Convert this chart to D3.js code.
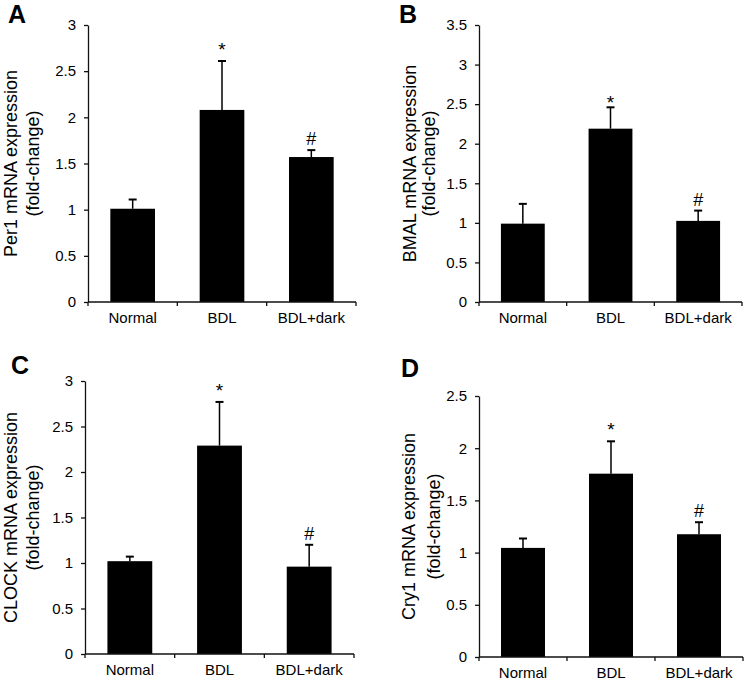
<!DOCTYPE html>
<html>
<head>
<meta charset="utf-8">
<script src="https://cdn.jsdelivr.net/npm/d3@7"></script>
<style>
  html, body { margin: 0; padding: 0; background: #fff; }
  svg { display: block; font-family: Arial, "Liberation Sans", sans-serif; }
</style>
</head>
<body>
<svg id="chart" width="748" height="682"></svg>
<script>
// ---- data ----
const categories = ["Normal", "BDL", "BDL+dark"];

const per1Values  = [1.01, 2.08, 1.57];
const per1Errors  = [0.10, 0.53, 0.075];
const per1Marks   = ["", "*", "#"];

const bmalValues  = [0.99, 2.19, 1.025];
const bmalErrors  = [0.25, 0.27, 0.13];
const bmalMarks   = ["", "*", "#"];

const clockValues = [1.02, 2.29, 0.96];
const clockErrors = [0.05, 0.48, 0.24];
const clockMarks  = ["", "*", "#"];

const cry1Values  = [1.045, 1.756, 1.176];
const cry1Errors  = [0.09, 0.31, 0.115];
const cry1Marks   = ["", "*", "#"];

const per1Ticks  = [0, 0.5, 1, 1.5, 2, 2.5, 3];
const bmalTicks  = [0, 0.5, 1, 1.5, 2, 2.5, 3, 3.5];
const clockTicks = [0, 0.5, 1, 1.5, 2, 2.5, 3];
const cry1Ticks  = [0, 0.5, 1, 1.5, 2, 2.5];

const panelLetters = ["A", "B", "C", "D"];
const yTitles = ["Per1 mRNA expression", "BMAL mRNA expression", "CLOCK mRNA expression", "Cry1 mRNA expression"];
const yTitleSub = "(fold-change)";

// ---- layout ----
const panels = [
  { letter: panelLetters[0], title: yTitles[0], values: per1Values,  errors: per1Errors,  marks: per1Marks,  ticks: per1Ticks,
    left: 88,  right: 356, top: 25,  bottom: 302, lx: 8,   ly: 23,  t1: 17,  t2: 39,  starDy: 0 },
  { letter: panelLetters[1], title: yTitles[1], values: bmalValues,  errors: bmalErrors,  marks: bmalMarks,  ticks: bmalTicks,
    left: 479, right: 742, top: 25,  bottom: 302, lx: 399, ly: 23,  t1: 416, t2: 435, starDy: 7 },
  { letter: panelLetters[2], title: yTitles[2], values: clockValues, errors: clockErrors, marks: clockMarks, ticks: clockTicks,
    left: 85,  right: 354, top: 381, bottom: 654, lx: 11,  ly: 374, t1: 17,  t2: 39,  starDy: 0 },
  { letter: panelLetters[3], title: yTitles[3], values: cry1Values,  errors: cry1Errors,  marks: cry1Marks,  ticks: cry1Ticks,
    left: 479, right: 743, top: 396, bottom: 657, lx: 401, ly: 377, t1: 415, t2: 440, starDy: 0 }
];

const svg = d3.select("#chart");

panels.forEach(p => {
  const g = svg.append("g");
  const y = d3.scaleLinear().domain([0, d3.max(p.ticks)]).range([p.bottom, p.top]);
  const x = d3.scaleBand().domain(categories).range([p.left, p.right]).paddingInner(0.5).paddingOuter(0.25);
  const xb = d3.scaleBand().domain(categories).range([p.left, p.right]);

  // bars
  g.selectAll("rect.bar").data(categories).join("rect")
    .attr("class", "bar")
    .attr("x", d => x(d))
    .attr("width", x.bandwidth())
    .attr("y", (d, i) => y(p.values[i]))
    .attr("height", (d, i) => y(0) - y(p.values[i]))
    .attr("fill", "#000");

  // error bars (upper only)
  const cx = d => x(d) + x.bandwidth() / 2;
  g.selectAll("line.err").data(categories).join("line")
    .attr("class", "err")
    .attr("x1", cx).attr("x2", cx)
    .attr("y1", (d, i) => y(p.values[i]))
    .attr("y2", (d, i) => y(p.values[i] + p.errors[i]))
    .attr("stroke", "#000").attr("stroke-width", 1.5);
  g.selectAll("line.cap").data(categories).join("line")
    .attr("class", "cap")
    .attr("x1", d => cx(d) - 4).attr("x2", d => cx(d) + 4)
    .attr("y1", (d, i) => y(p.values[i] + p.errors[i]))
    .attr("y2", (d, i) => y(p.values[i] + p.errors[i]))
    .attr("stroke", "#000").attr("stroke-width", 2);

  // significance marks
  g.selectAll("text.mark").data(categories).join("text")
    .attr("class", "mark")
    .attr("x", cx)
    .attr("y", (d, i) => y(p.values[i] + p.errors[i]) - 5 + (p.marks[i] === "*" ? p.starDy : 0))
    .attr("text-anchor", "middle")
    .attr("font-size", (d, i) => p.marks[i] === "*" ? 19 : 18)
    .attr("fill", "#000")
    .text((d, i) => p.marks[i]);

  // y axis
  const yAxis = g.append("g")
    .attr("transform", `translate(${p.left},0)`)
    .call(d3.axisLeft(y).tickValues(p.ticks).tickSize(4).tickSizeOuter(0).tickPadding(8).tickFormat(d => String(d)));
  yAxis.select(".domain").attr("stroke", "#111").attr("stroke-width", 1.3);
  yAxis.selectAll(".tick line").attr("stroke", "#111").attr("stroke-width", 1.3);
  yAxis.selectAll(".tick text").attr("font-size", 15).attr("fill", "#000")
    .style("font-family", "Arial, 'Liberation Sans', sans-serif");

  // x axis: line with ticks at category boundaries, labels centred
  const xAxis = g.append("g")
    .attr("transform", `translate(0,${p.bottom})`)
    .call(d3.axisBottom(xb).tickSize(0).tickPadding(10));
  xAxis.select(".domain").remove();
  xAxis.selectAll(".tick text").attr("font-size", 15).attr("fill", "#000")
    .style("font-family", "Arial, 'Liberation Sans', sans-serif");
  g.append("line")
    .attr("x1", p.left).attr("x2", p.right)
    .attr("y1", p.bottom).attr("y2", p.bottom)
    .attr("stroke", "#111").attr("stroke-width", 1.3);
  const bounds = categories.map(d => xb(d)).concat([xb.range()[1]]);
  g.selectAll("line.xt").data(bounds).join("line")
    .attr("class", "xt")
    .attr("x1", d => d).attr("x2", d => d)
    .attr("y1", p.bottom).attr("y2", p.bottom + 4)
    .attr("stroke", "#111").attr("stroke-width", 1.3);

  // y title (two lines)
  const midY = (p.top + p.bottom) / 2;
  g.append("text")
    .attr("transform", `translate(${p.t1},${midY}) rotate(-90)`)
    .attr("text-anchor", "middle").attr("font-size", 18).attr("fill", "#000")
    .text(p.title);
  g.append("text")
    .attr("transform", `translate(${p.t2},${midY}) rotate(-90)`)
    .attr("text-anchor", "middle").attr("font-size", 18).attr("fill", "#000")
    .text(yTitleSub);

  // panel letter
  g.append("text")
    .attr("x", p.lx).attr("y", p.ly)
    .attr("font-size", 25).attr("font-weight", "bold").attr("fill", "#000")
    .text(p.letter);
});
</script>
</body>
</html>
